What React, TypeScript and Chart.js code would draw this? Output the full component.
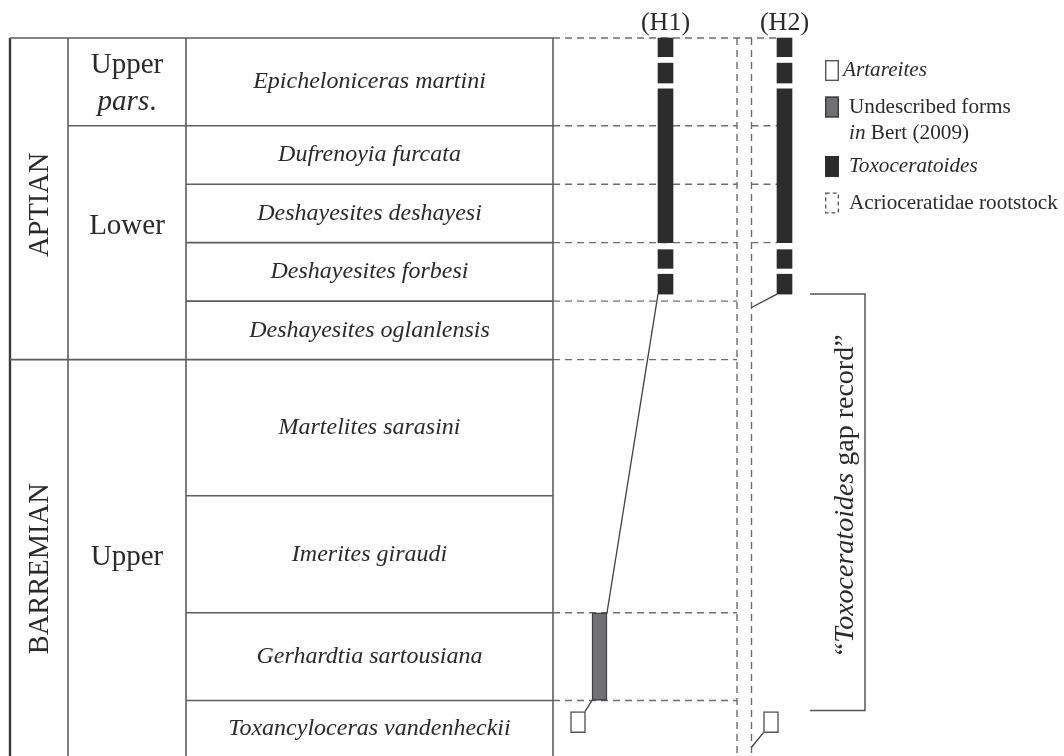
import React, { useEffect, useRef } from "react";
import { Chart, registerables } from "chart.js";

Chart.register(...registerables);

// ---------------- data ----------------
const stageNames = ["APTIAN", "BARREMIAN"];
const stageZoneCounts = [5, 4];
const substageNames = ["Upper\n*pars*.", "Lower", "Upper"];
const substageZoneCounts = [1, 4, 4];
const zoneNames = [
  "Epicheloniceras martini",
  "Dufrenoyia furcata",
  "Deshayesites deshayesi",
  "Deshayesites forbesi",
  "Deshayesites oglanlensis",
  "Martelites sarasini",
  "Imerites giraudi",
  "Gerhardtia sartousiana",
  "Toxancyloceras vandenheckii",
];
// relative thickness of each ammonite zone (stratigraphic units)
const zoneThickness = [1.5, 1, 1, 1, 1, 2.33, 2, 1.5, 0.95];
const lineageLabels = ["(H1)", "(H2)"];
// occurrence ranges, in stratigraphic units below the top of the E. martini zone
const toxoceratoidesH1 = [[0, 0.32], [0.43, 0.77], [0.87, 3.5], [3.62, 3.94], [4.04, 4.38]];
const toxoceratoidesH2 = [[0, 0.32], [0.43, 0.77], [0.87, 3.5], [3.62, 3.94], [4.04, 4.38]];
const undescribedH1 = [[9.83, 11.33]];
const artareitesH1 = [[11.52, 11.88]];
const artareitesH2 = [[11.52, 11.88]];
const legendLabels = [
  "*Artareites*",
  "Undescribed forms\n*in* Bert (2009)",
  "*Toxoceratoides*",
  "Acrioceratidae rootstock",
];
const gapLabel = "\u201c*Toxoceratoides* gap record\u201d";

// ---------------- layout & style ----------------
const W = 1064;
const H = 756;
const Y_TOP = -0.65;
const X = {
  tableL: 10,
  stageR: 68,
  subR: 186,
  tableR: 553,
  rootInner: 737,
  rootOuter: 751.5,
  h1: 665.5,
  h2: 784.5,
  und: 599.5,
  artH1: 578,
  artH2: 771,
  brL: 810,
  brR: 865,
  gapText: 846,
};
const BAR_W = 15;
const FONT = '"Liberation Serif", "Times New Roman", Times, serif';
const TEXT = "#2a2a2a";
const TABLE_LINE = "#5e5e5e";
const DASH_LINE = "#6e6e6e";
const LINK_LINE = "#3f3f3f";
const BLACK = "#2c2c2c";
const GRAY = "#717175";
const h1Guides = [1, 2, 3, 4, 5, 7, 8];
const stageShift = [6, 11];
const substageShift = [2, -16, 0];

const boundaries: number[] = [0];
zoneThickness.forEach((t, i) => boundaries.push(+(boundaries[i] + t).toFixed(3)));
const Y_MAX = boundaries[boundaries.length - 1];

type P = { x: number | null; y: number | null };
function segs(list: number[][][]): P[] {
  const out: P[] = [];
  list.forEach((s) => {
    s.forEach(([x, y]) => out.push({ x, y }));
    out.push({ x: null, y: null });
  });
  return out;
}

function lineDs(data: P[], color: string, width: number, dash: number[] = [], order = 2) {
  return {
    type: "line" as const,
    data,
    borderColor: color,
    borderWidth: width,
    borderDash: dash,
    pointRadius: 0,
    fill: false,
    tension: 0,
    spanGaps: false,
    order,
  };
}

function drawRich(
  ctx: CanvasRenderingContext2D,
  text: string,
  x: number,
  y: number,
  size: number,
  align: "center" | "left",
  allItalic = false,
  lineHeight = 1.3,
  anchorFirst = false
) {
  const lines = text.split("\n");
  const lh = size * lineHeight;
  ctx.textBaseline = "middle";
  ctx.textAlign = "left";
  ctx.fillStyle = TEXT;
  lines.forEach((line, li) => {
    const parts = line
      .split("*")
      .map((t, i) => ({ t, it: allItalic || i % 2 === 1 }))
      .filter((p) => p.t.length > 0);
    let total = 0;
    const widths = parts.map((p) => {
      ctx.font = `${p.it ? "italic " : ""}${size}px ${FONT}`;
      const w = ctx.measureText(p.t).width;
      total += w;
      return w;
    });
    let cx = align === "center" ? x - total / 2 : x;
    const ly = anchorFirst ? y + li * lh : y + (li - (lines.length - 1) / 2) * lh;
    parts.forEach((p, i) => {
      ctx.font = `${p.it ? "italic " : ""}${size}px ${FONT}`;
      ctx.fillText(p.t, cx, ly);
      cx += widths[i];
    });
  });
}

const textPlugin = {
  id: "stratText",
  afterDatasetsDraw(chart: any) {
    const ctx: CanvasRenderingContext2D = chart.ctx;
    const xs = chart.scales.x;
    const ys = chart.scales.y;
    const px = (v: number) => xs.getPixelForValue(v);
    const py = (v: number) => ys.getPixelForValue(v);
    ctx.save();

    // stages (rotated)
    let zi = 0;
    stageNames.forEach((name, i) => {
      const from = boundaries[zi];
      zi += stageZoneCounts[i];
      const to = boundaries[zi];
      ctx.save();
      ctx.translate(px((X.tableL + X.stageR) / 2) + 2, (py(from) + py(to)) / 2 + stageShift[i]);
      ctx.rotate(-Math.PI / 2);
      drawRich(ctx, name, 0, 0, 28.5, "center");
      ctx.restore();
    });

    // substages
    zi = 0;
    substageNames.forEach((name, i) => {
      const from = boundaries[zi];
      zi += substageZoneCounts[i];
      const to = boundaries[zi];
      drawRich(ctx, name, px((X.stageR + X.subR) / 2), (py(from) + py(to)) / 2 + substageShift[i], 29, "center", false, 1.28);
    });

    // zones
    zoneNames.forEach((name, i) => {
      drawRich(ctx, name, px((X.subR + X.tableR) / 2), (py(boundaries[i]) + py(boundaries[i + 1])) / 2, 24, "center", true);
    });

    // lineage labels
    drawRich(ctx, lineageLabels[0], px(X.h1), py(0) - 15, 26, "center");
    drawRich(ctx, lineageLabels[1], px(X.h2), py(0) - 15, 26, "center");

    // gap record label
    const gTop = toxoceratoidesH2[toxoceratoidesH2.length - 1][1];
    const gBot = artareitesH2[0][0];
    ctx.save();
    ctx.translate(px(X.gapText), (py(gTop) + py(gBot)) / 2 - 8);
    ctx.rotate(-Math.PI / 2);
    drawRich(ctx, gapLabel, 0, 0, 28, "center");
    ctx.restore();

    // legend
    const bx = px(825);
    const rows = [70.5, 107, 166.5, 203];
    const bw = 14;
    const bh = 21;
    rows.forEach((ry, i) => {
      const top = ry - bh / 2;
      ctx.setLineDash([]);
      if (i === 0) {
        ctx.fillStyle = "#ffffff";
        ctx.fillRect(bx, top, bw, bh);
        ctx.strokeStyle = "#555";
        ctx.lineWidth = 1.4;
        ctx.strokeRect(bx + 0.7, top + 0.7, bw - 1.4, bh - 1.4);
      } else if (i === 1) {
        ctx.fillStyle = GRAY;
        ctx.fillRect(bx, top, bw, bh);
        ctx.strokeStyle = "#3d3d3d";
        ctx.lineWidth = 1.4;
        ctx.strokeRect(bx + 0.7, top + 0.7, bw - 1.4, bh - 1.4);
      } else if (i === 2) {
        ctx.fillStyle = BLACK;
        ctx.fillRect(bx, top, bw, bh);
      } else {
        ctx.strokeStyle = "#555";
        ctx.lineWidth = 1.3;
        ctx.setLineDash([4, 3]);
        ctx.strokeRect(bx + 0.7, top + 0.7, bw - 1.4, bh - 1.4);
        ctx.setLineDash([]);
      }
      drawRich(ctx, legendLabels[i], bx + (i === 0 ? 18 : 24), ry, 21.2, "left", false, 1.25, true);
    });

    ctx.restore();
  },
};

export default function App() {
  const ref = useRef<HTMLCanvasElement>(null);

  useEffect(() => {
    const canvas = ref.current;
    if (!canvas) return;

    const b = boundaries;
    const h2Left = X.h2 - BAR_W / 2;

    // table frame
    const tableSegs: number[][][] = [
      [[X.tableL, 0], [X.tableR, 0]],
      [[X.stageR, 0], [X.stageR, Y_MAX]],
      [[X.subR, 0], [X.subR, Y_MAX]],
      [[X.tableR, 0], [X.tableR, Y_MAX]],
    ];
    for (let i = 1; i < b.length - 1; i++) tableSegs.push([[X.subR, b[i]], [X.tableR, b[i]]]);
    let zi = 0;
    substageZoneCounts.slice(0, -1).forEach((c) => {
      zi += c;
      tableSegs.push([[X.stageR, b[zi]], [X.subR, b[zi]]]);
    });
    zi = 0;
    stageZoneCounts.slice(0, -1).forEach((c) => {
      zi += c;
      tableSegs.push([[X.tableL, b[zi]], [X.stageR, b[zi]]]);
    });

    // dashed rootstock guides
    const toxoEndH2 = toxoceratoidesH2[toxoceratoidesH2.length - 1][1];
    const dashSegs: number[][][] = [
      [[X.tableR, 0], [h2Left, 0]],
      [[X.rootInner, 0], [X.rootInner, Y_MAX]],
      [[X.rootOuter, 0], [X.rootOuter, Y_MAX]],
    ];
    h1Guides.forEach((i) => dashSegs.push([[X.tableR, b[i]], [X.rootInner, b[i]]]));
    for (let i = 1; i < b.length - 1; i++) {
      if (b[i] < toxoEndH2) dashSegs.push([[X.rootOuter, b[i]], [h2Left, b[i]]]);
    }

    // links between ranges
    const toxoEndH1 = toxoceratoidesH1[toxoceratoidesH1.length - 1][1];
    const linkSegs: number[][][] = [
      [[X.h1 - BAR_W / 2, toxoEndH1], [X.und + BAR_W / 2, undescribedH1[0][0]]],
      [[X.und - BAR_W / 2, undescribedH1[0][1]], [X.artH1 + BAR_W / 2 - 0.5, artareitesH1[0][0]]],
      [[h2Left, toxoEndH2], [X.rootOuter, toxoEndH2 + 0.23]],
      [[X.artH2 - BAR_W / 2, artareitesH2[0][1]], [X.rootOuter, artareitesH2[0][1] + 0.25]],
    ];
    const bracketSegs: number[][][] = [
      [[X.brL, toxoEndH2], [X.brR, toxoEndH2], [X.brR, artareitesH2[0][0] - 0.02], [X.brL, artareitesH2[0][0] - 0.02]],
    ];

    // bars
    const bars: { x: number; y: number[] }[] = [];
    const fills: string[] = [];
    const borders: string[] = [];
    const bws: number[] = [];
    toxoceratoidesH1.forEach((r) => { bars.push({ x: X.h1, y: r }); fills.push(BLACK); borders.push(BLACK); bws.push(0); });
    toxoceratoidesH2.forEach((r) => { bars.push({ x: X.h2, y: r }); fills.push(BLACK); borders.push(BLACK); bws.push(0); });
    undescribedH1.forEach((r) => { bars.push({ x: X.und, y: r }); fills.push(GRAY); borders.push("#3d3d3d"); bws.push(1.5); });
    artareitesH1.forEach((r) => { bars.push({ x: X.artH1, y: r }); fills.push("#ffffff"); borders.push("#555555"); bws.push(1.5); });
    artareitesH2.forEach((r) => { bars.push({ x: X.artH2, y: r }); fills.push("#ffffff"); borders.push("#555555"); bws.push(1.5); });

    const chart = new Chart(canvas, {
      type: "scatter",
      data: {
        datasets: [
          {
            type: "bar",
            data: bars as any,
            backgroundColor: fills,
            borderColor: borders,
            borderWidth: bws,
            borderSkipped: false,
            barThickness: BAR_W,
            order: 0,
          } as any,
          lineDs(segs(linkSegs), LINK_LINE, 1.3, [], 1),
          lineDs(segs(bracketSegs), "#555555", 1.5, [], 1),
          lineDs(segs(dashSegs), DASH_LINE, 1.4, [7, 5], 3),
          lineDs(segs(tableSegs), TABLE_LINE, 1.6, [], 2),
          lineDs(segs([[[X.tableL, 0], [X.tableL, Y_MAX]]]), "#3a3a3a", 2.4, [], 2),
        ] as any,
      },
      options: {
        responsive: false,
        animation: false,
        events: [],
        layout: { padding: 0 },
        plugins: { legend: { display: false }, tooltip: { enabled: false } },
        scales: {
          x: { type: "linear", min: 0, max: W, display: false, offset: false },
          y: { type: "linear", min: Y_TOP, max: Y_MAX, reverse: true, display: false, stacked: false },
        },
      } as any,
      plugins: [textPlugin],
    });
    return () => chart.destroy();
  }, []);

  return (
    <div style={{ position: "absolute", left: 0, top: 0, width: W, height: H, background: "#ffffff" }}>
      <canvas ref={ref} width={W} height={H} style={{ display: "block", width: W, height: H }} />
    </div>
  );
}
